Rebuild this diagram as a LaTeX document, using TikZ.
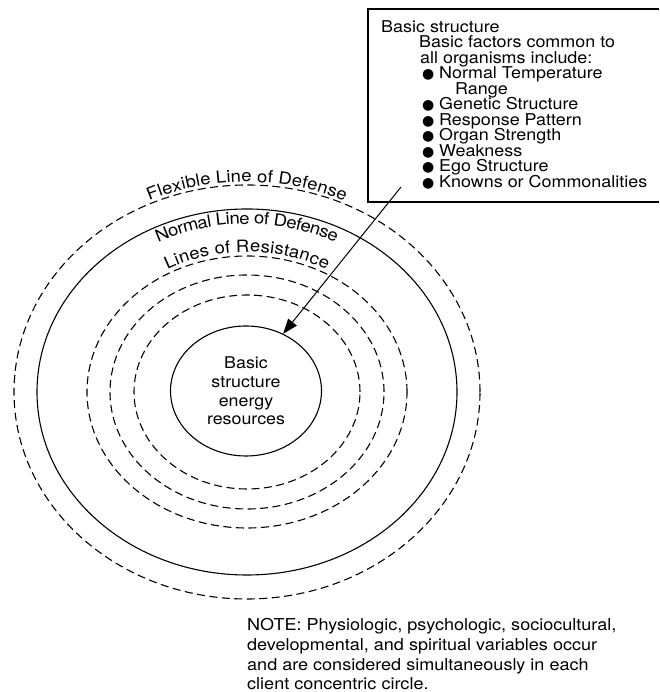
\documentclass[tikz,border=0pt]{standalone}
\usepackage{fontspec}
\setmainfont{TeX Gyre Heros}[FakeStretch=1.1]
\newfontfamily\symfont{DejaVu Sans}
\usetikzlibrary{shapes.geometric,arrows.meta,decorations.text}

\newcommand{\blt}{\makebox[17pt][l]{{\symfont\fontsize{14}{14}\selectfont\char"25CF}}}
\newcommand{\lblfont}{\fontsize{16.8}{20}\selectfont}
\newcommand{\boxfont}{\fontsize{16.3}{15.5}\selectfont\lineskiplimit-20pt\relax}

\begin{document}
\begin{tikzpicture}[x=1pt,y=1pt,
  dsh/.style={line width=1.1pt,dash pattern=on 8pt off 4.5pt},
  sld/.style={line width=1.1pt}]
\useasboundingbox (0,0) rectangle (659,692);

\coordinate (c) at (247,300);

% lines of defense and resistance
\draw[dsh] (c) ellipse[x radius=233, y radius=207];
\draw[sld] (c) ellipse[x radius=210, y radius=183];
\draw[dsh] (c) ellipse[x radius=160, y radius=136];
\draw[dsh] (c) ellipse[x radius=137, y radius=117];
\draw[dsh] (c) ellipse[x radius=113, y radius=97];

\path[decorate,decoration={text along path,text align=center,raise=3pt,
  text={|\lblfont|Flexible Line of Defense}}]
  (c) ++(165:233 and 207) arc[start angle=165,end angle=15,x radius=233,y radius=207];
\path[decorate,decoration={text along path,text align=center,raise=-15pt,
  text={|\lblfont|Normal Line of Defense}}]
  (c) ++(165:210 and 183) arc[start angle=165,end angle=15,x radius=210,y radius=183];
\path[decorate,decoration={text along path,text align=center,raise=4pt,
  text={|\lblfont|Lines of Resistance}}]
  (c) ++(165:160 and 136) arc[start angle=165,end angle=15,x radius=160,y radius=136];

% core
\node[ellipse,draw,sld,minimum width=151pt,minimum height=130pt,inner sep=0pt,
  align=center,font=\fontsize{16.2}{18.7}\selectfont] (core) at (246,301)
  {Basic\\structure\\energy\\resources};

% basic structure box
\draw[sld] (659,683) -- (368,683) -- (368,490) -- (659,490);
\node[anchor=north west,inner sep=0pt,align=left,font=\boxfont] (factors) at (381,672)
  {Basic structure\\
   \hspace*{38pt}Basic factors common to\\
   \hspace*{39pt}all organisms include:\\
   \hspace*{41pt}\blt Normal Temperature\\
   \hspace*{74pt}Range\\
   \hspace*{41pt}\blt Genetic Structure\\
   \hspace*{41pt}\blt Response Pattern\\
   \hspace*{41pt}\blt Organ Strength\\
   \hspace*{41pt}\blt Weakness\\
   \hspace*{41pt}\blt Ego Structure\\
   \hspace*{41pt}\blt Knowns or Commonalities};
\coordinate (src) at (401,505);
\draw[line width=1pt,-{Triangle[length=15pt,width=11pt]}] (src) -- (core.57);

% note
\node[anchor=north west,inner sep=0pt,align=left,
  font=\fontsize{16.4}{19.8}\selectfont] (note) at (247,74)
  {NOTE: Physiologic, psychologic, sociocultural,\\
   developmental, and spiritual variables occur\\
   and are considered simultaneously in each\\
   client concentric circle.};
\end{tikzpicture}
\end{document}
